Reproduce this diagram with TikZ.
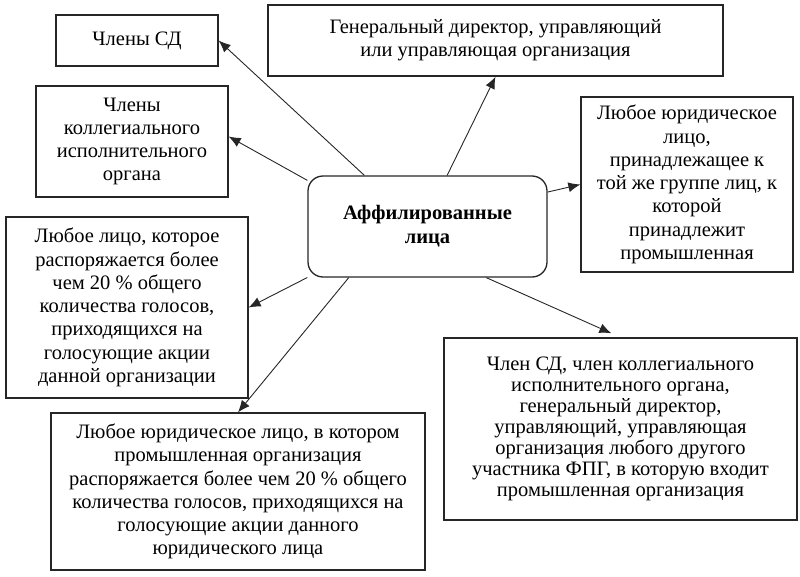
\documentclass[tikz,border=0pt]{standalone}
\usepackage{fontspec}
\setmainfont{Liberation Serif}
\usetikzlibrary{arrows.meta}

\begin{document}
\begin{tikzpicture}[x=1pt,y=-1pt,
    box/.style={draw,line width=1.3pt,black!85,text=black,inner sep=0pt,align=center,
      font=\fontsize{20.5}{23.3}\selectfont},
    core/.style={box,rounded corners=15pt,font=\fontsize{20.5}{24}\selectfont\bfseries},
    move/.style={-{Latex[length=12pt,width=10pt]},line width=0.9pt,black!85,draw}]

    \useasboundingbox (0,0) rectangle (800,577);

    \node[core,minimum width=239,minimum height=101] (aff) at (427.5,226.5) {Аффилированные\\лица};
    \node[box,minimum width=162,minimum height=51] (sd) at (137,40.5) {Члены СД};
    \node[box,minimum width=455,minimum height=71] (gen) at (495.5,40.5) {Генеральный директор, управляющий\\или управляющая организация};
    \node[box,minimum width=192,minimum height=111] (koll) at (132,141.5) {Члены\\коллегиального\\исполнительного\\органа};
    \node[box,minimum width=212,minimum height=175] (grp) at (687,184.5) {Любое юридическое\\лицо,\\принадлежащее к\\той же группе лиц, к\\которой\\принадлежит\\промышленная};
    \node[box,minimum width=242,minimum height=181] (lico) at (127,307.5) {Любое лицо, которое\\распоряжается более\\чем 20 \% общего\\количества голосов,\\приходящихся на\\голосующие акции\\данной организации};
    \node[box,minimum width=374,minimum height=157] (jur) at (238,491.5) {Любое юридическое лицо, в котором\\промышленная организация\\распоряжается более чем 20 \% общего\\количества голосов, приходящихся на\\голосующие акции данного\\юридического лица};
    \node[box,minimum width=353,minimum height=182,font=\fontsize{20.5}{21}\selectfont] (fpg) at (620.5,429) {Член СД, член коллегиального\\исполнительного органа,\\генеральный директор,\\управляющий, управляющая\\организация любого другого\\участника ФПГ, в которую входит\\промышленная организация};

    \path[move] (aff.141) -- (sd.east);
    \path[move] (aff.69) -- (gen.south);
    \path[move] (aff.159) -- ([yshift=5]koll.east);
    \path[move] (aff.16) -- (grp.west);
    \path[move] (aff.203) -- (lico.east);
    \path[move] (aff.213) -- (jur.north);
    \path[move,shorten >=10pt] (aff.319) -- (fpg.north);

  \end{tikzpicture}
\end{document}
